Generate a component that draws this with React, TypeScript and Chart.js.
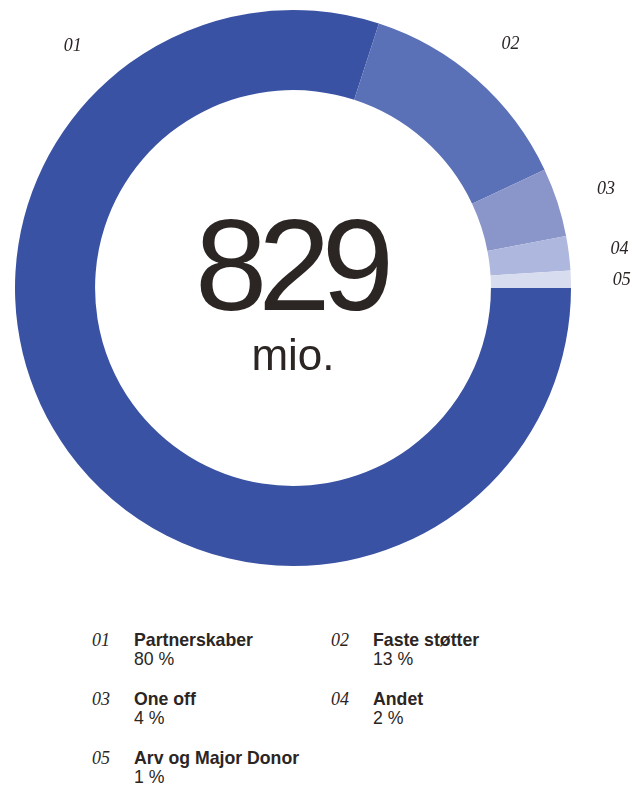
import React, { useEffect, useRef } from "react";
import { Chart, registerables } from "chart.js";

Chart.register(...registerables);

const codes = ["01", "02", "03", "04", "05"];
const categories = ["Partnerskaber", "Faste støtter", "One off", "Andet", "Arv og Major Donor"];
const shares = [80, 13, 4, 2, 1];
const colors = ["#3a52a3", "#5a70b7", "#8a95ca", "#aeb7dd", "#d8dcef"];
const totalLabel = "829";
const unitLabel = "mio.";

const ink = "#2b2523";

const overlayPlugin = {
  id: "overlay",
  afterDraw(chart: any) {
    const meta = chart.getDatasetMeta(0);
    if (!meta || !meta.data.length) return;
    const ctx = chart.ctx;
    const arc0 = meta.data[0];
    const cx = arc0.x;
    const cy = arc0.y;
    const outer = arc0.outerRadius;
    ctx.save();
    // center text
    ctx.fillStyle = ink;
    ctx.textAlign = "center";
    ctx.textBaseline = "alphabetic";
    ctx.font = "130px 'Liberation Sans', Arial, sans-serif";
    try { (ctx as any).letterSpacing = "-9px"; } catch (e) {}
    ctx.fillText(totalLabel, cx - 3, cy + 22);
    try { (ctx as any).letterSpacing = "0px"; } catch (e) {}
    ctx.font = "44px 'Liberation Sans', Arial, sans-serif";
    ctx.fillText(unitLabel, cx, cy + 82);
    // slice code labels
    ctx.font = "italic 18px 'Liberation Serif', 'DejaVu Serif', serif";
    ctx.textBaseline = "middle";
    meta.data.forEach((arc: any, i: number) => {
      let ang = (arc.startAngle + arc.endAngle) / 2;
      if (i === 0) ang = (-132 * Math.PI) / 180;
      const r = outer + 51;
      ctx.fillText(codes[i], cx + Math.cos(ang) * r, cy + Math.sin(ang) * r + 3);
    });
    ctx.restore();
  },
};

function DonutChart() {
  const ref = useRef<HTMLCanvasElement>(null);
  useEffect(() => {
    if (!ref.current) return;
    const chart = new Chart(ref.current, {
      type: "doughnut",
      data: {
        labels: categories,
        datasets: [
          {
            data: shares,
            backgroundColor: colors,
            borderWidth: 0,
          },
        ],
      },
      options: {
        responsive: false,
        animation: false,
        rotation: 90,
        cutout: "71.2%",
        layout: { padding: { left: 7, top: 2, right: 61, bottom: 42 } },
        plugins: {
          legend: { display: false },
          tooltip: { enabled: false },
        },
      },
      plugins: [overlayPlugin],
    });
    return () => chart.destroy();
  }, []);
  return <canvas ref={ref} width={624} height={600} style={{ position: "absolute", left: 0, top: 0 }} />;
}

export default function App() {
  const rowTops = [623, 682, 741];
  return (
    <div style={{ position: "relative", width: 624, height: 777, background: "#fff" }}>
      <DonutChart />
      {categories.map((c, i) => {
        const row = Math.floor(i / 2);
        const col = i % 2;
        return (
          <div
            key={c}
            style={{
              position: "absolute",
              left: col === 0 ? 84 : 323,
              top: rowTops[row],
              display: "flex",
              color: ink,
              lineHeight: "19px",
            }}
          >
            <div
              style={{
                width: 42,
                fontFamily: "'Liberation Serif', 'DejaVu Serif', serif",
                fontStyle: "italic",
                fontSize: 18,
              }}
            >
              {codes[i]}
            </div>
            <div style={{ fontFamily: "'Liberation Sans', Arial, sans-serif", fontSize: 17.7 }}>
              <div style={{ fontWeight: "bold" }}>{c}</div>
              <div>{shares[i]} %</div>
            </div>
          </div>
        );
      })}
    </div>
  );
}
